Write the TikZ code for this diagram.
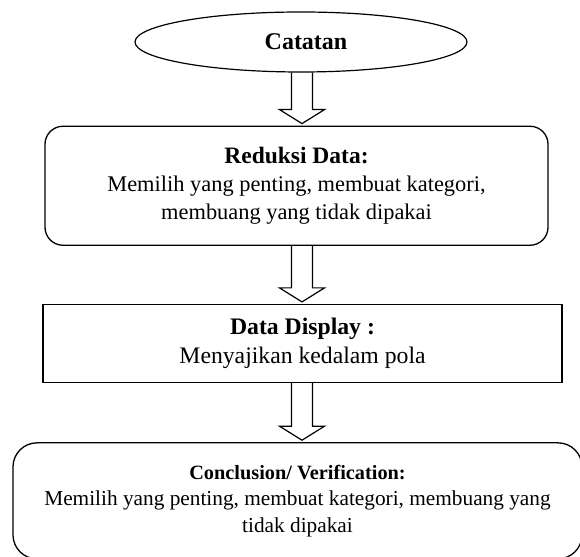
\documentclass[tikz,border=0pt]{standalone}
\usepackage{fontspec}
\setmainfont{Liberation Serif}
\usetikzlibrary{shapes.geometric,positioning,calc}

% hollow block arrow between two stages
\newcommand{\blockarrow}[2]{%
  \draw[barrow] let \p1 = (#1.south), \p2 = (#2.north) in
    (291.5pt,\y1) -- (291.5pt,\y2+16pt) -- (279.5pt,\y2+16pt) -- (302pt,\y2+2pt)
    -- (324.5pt,\y2+16pt) -- (312.5pt,\y2+16pt) -- (312.5pt,\y1);}

\begin{document}
\begin{tikzpicture}[
  x = 1pt, y = 1pt,
  node distance = 53pt,
  start/.style = {ellipse, draw, line width=1.2pt, inner sep=0pt,
                  minimum width=332pt, minimum height=60pt},
  stage/.style = {rectangle, draw, line width=1.3pt, align=center, inner sep=0pt},
  barrow/.style = {line width=1.2pt, line join=miter}
]
\useasboundingbox (0,0) rectangle (580,556);

% ───────── start ─────────
\node[start, font=\fontsize{24}{29}\selectfont\bfseries] (notes) at (301,514) {\hspace{10pt}Catatan};

% ───────── stages ─────────
\node[stage, rounded corners=18pt, minimum width=503pt, minimum height=119pt,
      font=\fontsize{22.4}{28}\selectfont,
      below=of notes, xshift=-4.5pt] (reduksi)
  {{\fontsize{23.5}{28}\selectfont\textbf{Reduksi Data:}}\\
   Memilih yang penting, membuat kategori,\\
   membuang yang tidak dipakai};

\node[stage, minimum width=519pt, minimum height=78pt,
      font=\fontsize{23.7}{29}\selectfont,
      below=58pt of reduksi, xshift=6pt] (display)
  {\textbf{Data Display :}\\
   Menyajikan kedalam pola};

\node[stage, rounded corners=24pt, minimum width=569pt, minimum height=116pt,
      font=\fontsize{21.3}{26.5}\selectfont,
      below=59pt of display, xshift=-5pt] (concl)
  {{\fontsize{20.3}{26.5}\selectfont\textbf{Conclusion/ Verification:}}\\
   Memilih yang penting, membuat kategori, membuang yang\\
   tidak dipakai};

% ───────── arrows ─────────
\blockarrow{notes}{reduksi}
\blockarrow{reduksi}{display}
\blockarrow{display}{concl}
\end{tikzpicture}
\end{document}
